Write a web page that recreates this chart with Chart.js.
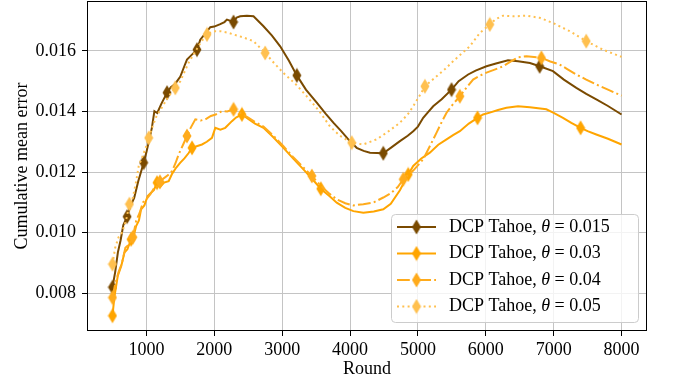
<!DOCTYPE html>
<html>
<head>
<meta charset="utf-8">
<script src="https://cdn.jsdelivr.net/npm/chart.js@4.4.1/dist/chart.umd.min.js"></script>
<style>
  html, body { margin: 0; padding: 0; background: #fff; }
</style>
</head>
<body>
<canvas id="chart" width="673" height="385"></canvas>
<script>
/* Cumulative mean error of DCP Tahoe for several thresholds */

var thetaLabels = ['0.015', '0.03', '0.04', '0.05'];
var xTicks = [1000, 2000, 3000, 4000, 5000, 6000, 7000, 8000];
var yTicks = [0.008, 0.010, 0.012, 0.014, 0.016];

// theta = 0.015
var tahoe015Rounds = [500, 540, 580, 620, 660, 716, 760, 820, 880, 960, 1000, 1040, 1080, 1118, 1160, 1220, 1304, 1360, 1420, 1500, 1560, 1598, 1660, 1745, 1794, 1860, 1941, 2000, 2088, 2150, 2186, 2284, 2330, 2382, 2480, 2578, 2725, 2850, 2971, 3100, 3216, 3350, 3510, 3640, 3754, 3870, 3975, 4098, 4200, 4294, 4490, 4600, 4735, 4850, 4931, 5000, 5078, 5150, 5225, 5350, 5495, 5600, 5740, 5850, 6010, 6150, 6328, 6475, 6650, 6794, 6990, 7150, 7334, 7480, 7628, 7800, 8000];
var tahoe015Error = [0.00820, 0.00870, 0.00935, 0.00975, 0.01025, 0.01053, 0.01085, 0.01115, 0.01170, 0.01231, 0.01265, 0.01305, 0.01345, 0.01401, 0.01395, 0.01425, 0.01462, 0.01480, 0.01490, 0.01515, 0.01550, 0.01571, 0.01585, 0.01604, 0.01637, 0.01655, 0.01678, 0.01680, 0.01688, 0.01695, 0.01703, 0.01695, 0.01710, 0.01714, 0.01716, 0.01714, 0.01681, 0.01650, 0.01615, 0.01567, 0.01519, 0.01472, 0.01429, 0.01393, 0.01363, 0.01335, 0.01308, 0.01280, 0.01270, 0.01264, 0.01262, 0.01280, 0.01302, 0.01320, 0.01335, 0.01350, 0.01379, 0.01398, 0.01417, 0.01440, 0.01472, 0.01500, 0.01522, 0.01535, 0.01549, 0.01558, 0.01569, 0.01566, 0.01560, 0.01549, 0.01533, 0.01505, 0.01478, 0.01458, 0.01440, 0.01418, 0.01390];
var tahoe015Marks = [500, 716, 960, 1304, 1745, 2284, 3216, 4490, 5495, 6794];

// theta = 0.03
var tahoe03Rounds = [500, 530, 578, 630, 676, 720, 775, 820, 849, 890, 922, 970, 1019, 1060, 1110, 1157, 1200, 1260, 1328, 1380, 1440, 1500, 1560, 1620, 1672, 1740, 1819, 1890, 1966, 2015, 2090, 2162, 2260, 2320, 2407, 2500, 2600, 2725, 2870, 3019, 3160, 3313, 3440, 3569, 3700, 3804, 3930, 4049, 4196, 4350, 4490, 4600, 4735, 4857, 4931, 5050, 5176, 5300, 5422, 5518, 5618, 5750, 5878, 5960, 6059, 6180, 6304, 6475, 6650, 6892, 7000, 7137, 7260, 7397, 7500, 7628, 7800, 8000];
var tahoe03Error = [0.00726, 0.00790, 0.00857, 0.00890, 0.00934, 0.00945, 0.00978, 0.00995, 0.01022, 0.01040, 0.01077, 0.01090, 0.01121, 0.01130, 0.01140, 0.01165, 0.01150, 0.01165, 0.01170, 0.01195, 0.01215, 0.01231, 0.01245, 0.01262, 0.01280, 0.01285, 0.01291, 0.01300, 0.01313, 0.01346, 0.01340, 0.01346, 0.01368, 0.01380, 0.01390, 0.01375, 0.01360, 0.01346, 0.01315, 0.01280, 0.01245, 0.01209, 0.01178, 0.01145, 0.01120, 0.01099, 0.01082, 0.01071, 0.01066, 0.01070, 0.01077, 0.01095, 0.01140, 0.01192, 0.01220, 0.01245, 0.01264, 0.01290, 0.01308, 0.01322, 0.01335, 0.01360, 0.01379, 0.01390, 0.01396, 0.01405, 0.01412, 0.01417, 0.01414, 0.01407, 0.01395, 0.01379, 0.01362, 0.01346, 0.01335, 0.01324, 0.01310, 0.01291];
var tahoe03Marks = [500, 775, 1157, 1672, 2407, 3569, 4857, 5878, 7397];

// theta = 0.04
var tahoe04Rounds = [500, 540, 590, 640, 690, 740, 800, 850, 900, 950, 1000, 1059, 1120, 1150, 1200, 1260, 1320, 1377, 1430, 1475, 1540, 1598, 1650, 1721, 1800, 1868, 1950, 2020, 2113, 2190, 2284, 2382, 2500, 2600, 2725, 2870, 3019, 3160, 3313, 3437, 3569, 3700, 3804, 3930, 4049, 4196, 4350, 4490, 4600, 4700, 4784, 4931, 5078, 5175, 5275, 5350, 5422, 5520, 5618, 5720, 5813, 5910, 6010, 6130, 6255, 6370, 6475, 6600, 6819, 6950, 7088, 7200, 7334, 7480, 7628, 7800, 8000];
var tahoe04Error = [0.00786, 0.00830, 0.00870, 0.00900, 0.00950, 0.00960, 0.00985, 0.01040, 0.01065, 0.01100, 0.01110, 0.01127, 0.01150, 0.01150, 0.01168, 0.01180, 0.01190, 0.01203, 0.01230, 0.01258, 0.01290, 0.01319, 0.01345, 0.01374, 0.01370, 0.01374, 0.01385, 0.01390, 0.01401, 0.01400, 0.01407, 0.01395, 0.01380, 0.01365, 0.01350, 0.01320, 0.01285, 0.01250, 0.01215, 0.01187, 0.01155, 0.01128, 0.01110, 0.01097, 0.01090, 0.01094, 0.01100, 0.01116, 0.01130, 0.01150, 0.01176, 0.01205, 0.01242, 0.01285, 0.01330, 0.01365, 0.01396, 0.01425, 0.01450, 0.01480, 0.01505, 0.01518, 0.01528, 0.01538, 0.01549, 0.01565, 0.01579, 0.01582, 0.01577, 0.01565, 0.01555, 0.01540, 0.01522, 0.01505, 0.01489, 0.01472, 0.01452];
var tahoe04Marks = [500, 800, 1200, 1598, 2284, 3437, 4784, 5618, 6819];

// theta = 0.05
var tahoe05Rounds = [500, 540, 590, 640, 700, 750, 800, 850, 887, 940, 990, 1034, 1090, 1150, 1220, 1300, 1360, 1426, 1500, 1560, 1620, 1700, 1780, 1840, 1892, 1990, 2088, 2200, 2284, 2420, 2578, 2750, 2880, 3019, 3200, 3363, 3550, 3706, 3850, 4025, 4196, 4392, 4540, 4660, 4735, 4850, 4931, 5020, 5103, 5275, 5400, 5520, 5640, 5765, 5912, 6059, 6150, 6255, 6420, 6598, 6794, 6990, 7235, 7480, 7725, 8000];
var tahoe05Error = [0.00896, 0.00950, 0.00985, 0.01000, 0.01040, 0.01094, 0.01115, 0.01170, 0.01220, 0.01250, 0.01280, 0.01313, 0.01350, 0.01385, 0.01410, 0.01440, 0.01460, 0.01478, 0.01500, 0.01530, 0.01560, 0.01590, 0.01620, 0.01640, 0.01654, 0.01665, 0.01665, 0.01660, 0.01654, 0.01645, 0.01632, 0.01593, 0.01560, 0.01527, 0.01490, 0.01450, 0.01400, 0.01350, 0.01320, 0.01297, 0.01291, 0.01308, 0.01330, 0.01350, 0.01363, 0.01390, 0.01417, 0.01450, 0.01483, 0.01516, 0.01540, 0.01566, 0.01590, 0.01615, 0.01659, 0.01687, 0.01705, 0.01716, 0.01714, 0.01716, 0.01709, 0.01692, 0.01665, 0.01632, 0.01604, 0.01580];
var tahoe05Marks = [500, 750, 1034, 1426, 1892, 2750, 4025, 5103, 6059, 7480];

var FONT = '"Liberation Serif", "Times New Roman", serif';

// thin diamond ('d' style) used as point marker
function makeDiamond(color) {
    var c = document.createElement('canvas');
    c.width = 10;
    c.height = 16;
    var g = c.getContext('2d');
    g.fillStyle = color;
    g.beginPath();
    g.moveTo(5, 0.5);
    g.lineTo(9.5, 8);
    g.lineTo(5, 15.5);
    g.lineTo(0.5, 8);
    g.closePath();
    g.fill();
    return c;
}

function toPoints(rounds, errors) {
    var out = [];
    for (var i = 0; i < rounds.length; i++) {
        out.push({ x: rounds[i], y: errors[i] });
    }
    return out;
}

var seriesStyle = [
    { color: '#7a4a00', dash: [], rounds: tahoe015Rounds, errors: tahoe015Error, marks: tahoe015Marks },
    { color: '#ffa500', dash: [], rounds: tahoe03Rounds, errors: tahoe03Error, marks: tahoe03Marks },
    { color: '#ffab1c', dash: [12.8, 3.2, 2, 3.2], rounds: tahoe04Rounds, errors: tahoe04Error, marks: tahoe04Marks },
    { color: '#ffc04f', dash: [2, 3.3], rounds: tahoe05Rounds, errors: tahoe05Error, marks: tahoe05Marks }
];

var datasets = seriesStyle.map(function(s, i) {
    var marker = makeDiamond(s.color);
    s.marker = marker;
    return {
        label: 'DCP Tahoe, θ = ' + thetaLabels[i],
        data: toPoints(s.rounds, s.errors),
        borderColor: s.color,
        backgroundColor: s.color,
        borderWidth: 2,
        borderDash: s.dash,
        borderCapStyle: 'butt',
        tension: 0,
        pointStyle: marker,
        pointRadius: function(ctx) {
            var p = ctx.raw;
            return p && s.marks.indexOf(p.x) >= 0 ? 5 : 0;
        },
        pointHoverRadius: 0,
        order: 4 - i,
        clip: false
    };
});

// frame round the plot area, like the axes spines
var framePlugin = {
    id: 'frame',
    afterDatasetsDraw: function(chart) {
        var a = chart.chartArea;
        var ctx = chart.ctx;
        ctx.save();
        ctx.strokeStyle = '#000';
        ctx.lineWidth = 1;
        ctx.strokeRect(Math.round(a.left) + 0.5, Math.round(a.top) + 0.5,
            Math.round(a.right - a.left) - 1, Math.round(a.bottom - a.top) - 1);
        ctx.restore();
    }
};

function roundRect(ctx, x, y, w, h, r) {
    ctx.beginPath();
    ctx.moveTo(x + r, y);
    ctx.lineTo(x + w - r, y);
    ctx.quadraticCurveTo(x + w, y, x + w, y + r);
    ctx.lineTo(x + w, y + h - r);
    ctx.quadraticCurveTo(x + w, y + h, x + w - r, y + h);
    ctx.lineTo(x + r, y + h);
    ctx.quadraticCurveTo(x, y + h, x, y + h - r);
    ctx.lineTo(x, y + r);
    ctx.quadraticCurveTo(x, y, x + r, y);
    ctx.closePath();
}

// legend box in the lower right corner of the plot
var legendPlugin = {
    id: 'innerLegend',
    afterDraw: function(chart) {
        var ctx = chart.ctx;
        var a = chart.chartArea;
        var boxW = 247, boxH = 108;
        var bx = a.right - 9 - boxW;
        var by = a.bottom - 9 - boxH;
        ctx.save();
        roundRect(ctx, bx + 0.5, by + 0.5, boxW, boxH, 4);
        ctx.fillStyle = 'rgba(255,255,255,0.8)';
        ctx.fill();
        ctx.strokeStyle = '#cccccc';
        ctx.lineWidth = 1;
        ctx.stroke();

        seriesStyle.forEach(function(s, i) {
            var y = by + 13 + i * 26.5;
            ctx.strokeStyle = s.color;
            ctx.lineWidth = 2;
            ctx.setLineDash(s.dash);
            ctx.beginPath();
            ctx.moveTo(bx + 6, y);
            ctx.lineTo(bx + 45, y);
            ctx.stroke();
            ctx.setLineDash([]);
            ctx.drawImage(s.marker, bx + 25.5 - 5, y - 8);

            ctx.fillStyle = '#000';
            ctx.textBaseline = 'middle';
            var tx = bx + 58;
            ctx.font = '18px ' + FONT;
            var part1 = 'DCP Tahoe, ';
            ctx.fillText(part1, tx, y);
            tx += ctx.measureText(part1).width;
            ctx.font = 'italic 18px ' + FONT;
            ctx.fillText('θ', tx, y);
            tx += ctx.measureText('θ').width;
            ctx.font = '18px ' + FONT;
            ctx.fillText(' = ' + thetaLabels[i], tx, y);
        });
        ctx.restore();
    }
};

function noPadding(scale) {
    scale.paddingLeft = 0;
    scale.paddingRight = 0;
    scale.paddingTop = 0;
    scale.paddingBottom = 0;
}

var chart = new Chart(document.getElementById('chart').getContext('2d'), {
    type: 'line',
    data: { datasets: datasets },
    options: {
        responsive: false,
        animation: false,
        events: [],
        layout: { autoPadding: false, padding: { top: 1, right: 26, left: 0, bottom: 0 } },
        plugins: {
            legend: { display: false },
            tooltip: { enabled: false }
        },
        scales: {
            x: {
                type: 'linear',
                min: 125,
                max: 8375,
                border: { display: false },
                grid: { color: '#c4c4c4', lineWidth: 1, tickColor: '#000', tickLength: 5, tickWidth: 1 },
                ticks: {
                    color: '#000',
                    padding: 3,
                    font: { family: FONT, size: 18 },
                    maxRotation: 0,
                    callback: function(v) { return String(v); }
                },
                afterBuildTicks: function(scale) {
                    scale.ticks = xTicks.map(function(v) { return { value: v }; });
                },
                afterFit: function(scale) {
                    scale.height = 54;
                    noPadding(scale);
                },
                title: {
                    display: true,
                    text: 'Round',
                    color: '#000',
                    font: { family: FONT, size: 18 },
                    padding: { top: 0, bottom: 5 }
                }
            },
            y: {
                type: 'linear',
                min: 0.006755,
                max: 0.017645,
                border: { display: false },
                grid: { color: '#c4c4c4', lineWidth: 1, tickColor: '#000', tickLength: 5, tickWidth: 1 },
                ticks: {
                    color: '#000',
                    padding: 6,
                    font: { family: FONT, size: 18 },
                    callback: function(v) { return v.toFixed(3); }
                },
                afterBuildTicks: function(scale) {
                    scale.ticks = yTicks.map(function(v) { return { value: v }; });
                },
                afterFit: function(scale) {
                    scale.width = 87;
                    noPadding(scale);
                },
                title: {
                    display: true,
                    text: 'Cumulative mean error',
                    color: '#000',
                    font: { family: FONT, size: 18 },
                    padding: { top: 11, bottom: 0 }
                }
            }
        }
    },
    plugins: [framePlugin, legendPlugin]
});
</script>
</body>
</html>
